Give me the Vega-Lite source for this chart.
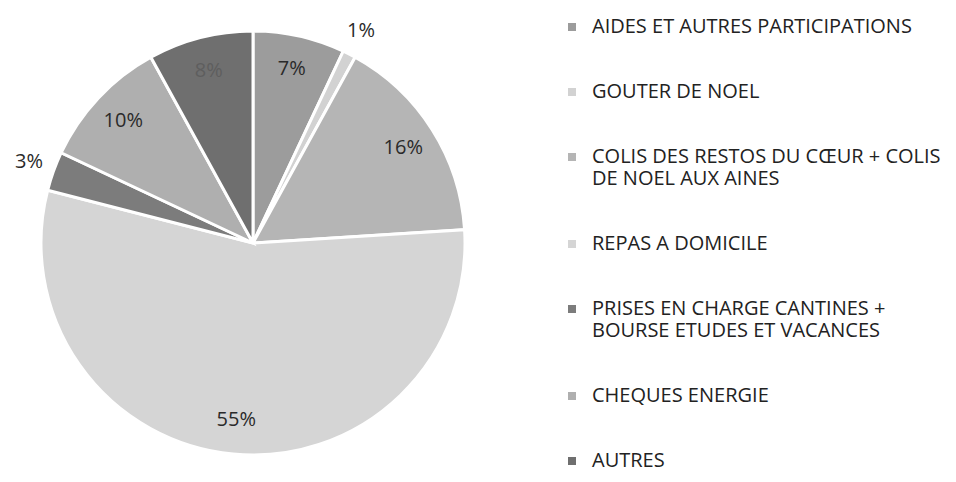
{
  "$schema": "https://vega.github.io/schema/vega-lite/v6.json",
  "width": 506,
  "height": 482,
  "padding": 0,
  "background": "white",
  "config": {"view": {"stroke": null}, "font": "Open Sans"},
  "data": {
    "values": [
      {"ordre": 1, "poste": "AIDES ET AUTRES PARTICIPATIONS", "valeur": 7, "position": "dedans"},
      {"ordre": 2, "poste": "GOUTER DE NOEL", "valeur": 1, "position": "dehors"},
      {"ordre": 3, "poste": "COLIS DES RESTOS DU CŒUR + COLIS|DE NOEL AUX AINES", "valeur": 16, "position": "dedans"},
      {"ordre": 4, "poste": "REPAS A DOMICILE", "valeur": 55, "position": "dedans"},
      {"ordre": 5, "poste": "PRISES EN CHARGE CANTINES +|BOURSE ETUDES ET VACANCES", "valeur": 3, "position": "dehors"},
      {"ordre": 6, "poste": "CHEQUES ENERGIE", "valeur": 10, "position": "dedans"},
      {"ordre": 7, "poste": "AUTRES", "valeur": 8, "position": "dedans"}
    ]
  },
  "transform": [
    {"calculate": "datum.valeur + '%'", "as": "etiquette"},
    {"calculate": "datum.position == 'dedans' ? datum.etiquette : ''", "as": "etiq_dedans"},
    {"calculate": "datum.position == 'dehors' ? datum.etiquette : ''", "as": "etiq_dehors"}
  ],
  "encoding": {
    "theta": {"field": "valeur", "type": "quantitative", "stack": true},
    "order": {"field": "ordre", "type": "quantitative"},
    "color": {
      "field": "poste",
      "type": "nominal",
      "sort": {"field": "ordre"},
      "scale": {
        "domain": [
          "AIDES ET AUTRES PARTICIPATIONS",
          "GOUTER DE NOEL",
          "COLIS DES RESTOS DU CŒUR + COLIS|DE NOEL AUX AINES",
          "REPAS A DOMICILE",
          "PRISES EN CHARGE CANTINES +|BOURSE ETUDES ET VACANCES",
          "CHEQUES ENERGIE",
          "AUTRES"
        ],
        "range": ["#9c9c9c", "#d2d2d2", "#b5b5b5", "#d5d5d5", "#7c7c7c", "#afafaf", "#6f6f6f"]
      },
      "legend": {
        "title": null,
        "orient": "none",
        "legendX": 562,
        "legendY": 15,
        "symbolType": "square",
        "symbolSize": 64,
        "symbolStrokeWidth": 0,
        "labelFontSize": 20,
        "labelColor": "#222222",
        "labelLimit": 420,
        "labelOffset": 10,
        "rowPadding": 45,
        "labelExpr": "split(datum.label, '|')"
      }
    }
  },
  "layer": [
    {
      "mark": {"type": "arc", "outerRadius": 212, "stroke": "white", "strokeWidth": 3}
    },
    {
      "mark": {"type": "text", "radius": 178, "fontSize": 20, "font": "Open Sans"},
      "encoding": {
        "text": {"field": "etiq_dedans", "type": "nominal"},
        "color": {"condition": {"test": "datum.valeur == 8", "value": "#5e5e5e"}, "value": "#2a2a2a"}
      }
    },
    {
      "mark": {"type": "text", "radius": 238, "fontSize": 20, "font": "Open Sans"},
      "encoding": {
        "text": {"field": "etiq_dehors", "type": "nominal"},
        "color": {"value": "#2a2a2a"}
      }
    }
  ]
}
